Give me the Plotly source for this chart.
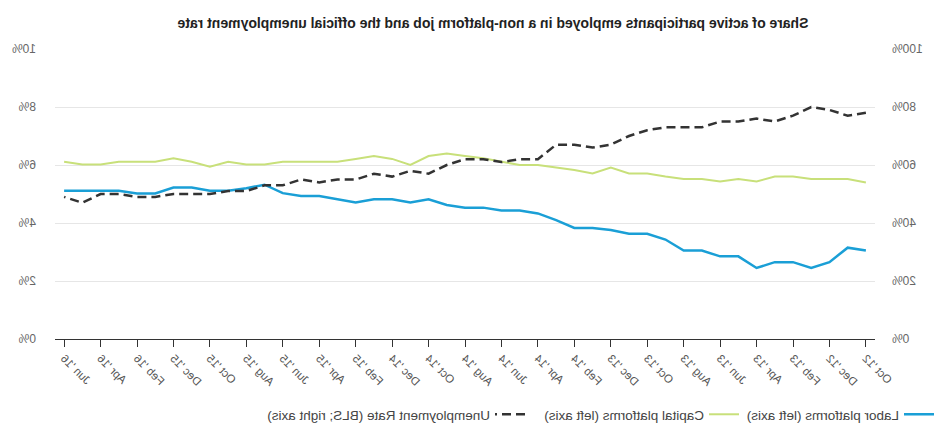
import plotly.graph_objects as go
import pandas as pd

# Monthly observations, Oct 2012 - Jun 2016
months = pd.date_range("2012-10-01", "2016-06-01", freq="MS").strftime("%b '%y").tolist()

tick_labels = ["Oct '12", "Dec '12", "Feb '13", "Apr '13", "Jun '13", "Aug '13",
               "Oct '13", "Dec '13", "Feb '14", "Apr '14", "Jun '14", "Aug '14",
               "Oct '14", "Dec '14", "Feb '15", "Apr '15", "Jun '15", "Aug '15",
               "Oct '15", "Dec '15", "Feb '16", "Apr '16", "Jun '16"]

labor = [30.5, 31.5, 26.5, 24.5, 26.5, 26.5, 24.5, 28.5, 28.5, 30.5,
         30.5, 34.3, 36.3, 36.3, 37.6, 38.3, 38.3, 41.0, 43.3, 44.3,
         44.3, 45.3, 45.3, 46.2, 48.2, 47.1, 48.2, 48.2, 47.1, 48.3,
         49.3, 49.3, 50.3, 53.2, 52.0, 51.1, 51.1, 52.2, 52.2, 50.2,
         50.2, 51.1, 51.1, 51.1, 51.1]

capital = [54.0, 55.2, 55.2, 55.2, 56.0, 56.0, 54.3, 55.2, 54.3, 55.2,
           55.2, 56.0, 57.1, 57.1, 59.1, 57.1, 58.3, 59.1, 60.0, 60.0,
           61.1, 62.3, 63.1, 64.0, 63.1, 60.0, 62.1, 63.1, 62.1, 61.1,
           61.1, 61.1, 61.1, 60.2, 60.2, 61.1, 59.4, 61.1, 62.3, 61.1,
           61.1, 61.1, 60.2, 60.2, 61.1]

unemployment = [7.8, 7.7, 7.9, 8.0, 7.7, 7.5, 7.6, 7.5, 7.5, 7.3,
                7.3, 7.3, 7.2, 7.0, 6.7, 6.6, 6.7, 6.7, 6.2, 6.2,
                6.1, 6.2, 6.2, 6.0, 5.7, 5.8, 5.6, 5.7, 5.5, 5.5,
                5.4, 5.5, 5.3, 5.3, 5.1, 5.1, 5.0, 5.0, 5.0, 4.9,
                4.9, 5.0, 5.0, 4.7, 4.9]

left_ticks = [0, 20, 40, 60, 80, 100]
left_labels = ["0%", "20%", "40%", "60%", "80%", "100%"]
right_ticks = [0, 2, 4, 6, 8, 10]
right_labels = ["0%", "2%", "4%", "6%", "8%", "10%"]

title = "Share of active participants employed in a non-platform job and the official unemployment rate"

fig = go.Figure()
fig.add_trace(go.Scatter(x=months, y=labor, name="Labor platforms (left axis)", mode="lines",
                         line=dict(color="#1a9fd6", width=2.5), legend="legend"))
fig.add_trace(go.Scatter(x=months, y=capital, name="Capital platforms (left axis)", mode="lines",
                         line=dict(color="#c8e07a", width=2), legend="legend2"))
fig.add_trace(go.Scatter(x=months, y=unemployment, name="Unemployment Rate (BLS; right axis)",
                         mode="lines", yaxis="y2", legend="legend3",
                         line=dict(color="#333333", width=2.5, dash="9px,5px")))

legend_style = dict(orientation="h", xref="container", yref="container", y=(441 - 399) / 441,
                    xanchor="left", yanchor="top",
                    font=dict(size=13.5, color="#444444"), bgcolor="rgba(0,0,0,0)")

fig.update_layout(
    width=943, height=441,
    margin=dict(l=68, r=55, t=49, b=102),
    paper_bgcolor="white", plot_bgcolor="white",
    font=dict(family="Liberation Sans, Arial, sans-serif", size=11, color="#555555"),
    title=dict(text="<b>" + title + "</b>", x=450 / 943, xref="container", xanchor="center",
               y=1 - 23 / 441, yref="container", yanchor="middle",
               font=dict(family="Liberation Sans, Arial, sans-serif", size=14, color="#222222")),
    xaxis=dict(type="category", range=[-0.5, 44.5], tickmode="array",
               tickvals=tick_labels, ticktext=tick_labels, tickangle=-45,
               ticks="outside", ticklen=7, tickcolor="#333333", tickwidth=1,
               showline=True, linecolor="#333333", linewidth=1, showgrid=False,
               tickfont=dict(size=11.5, color="#555555")),
    yaxis=dict(range=[0, 100], tickmode="array", tickvals=left_ticks, ticktext=left_labels,
               showgrid=True, gridcolor="#e6e6e6", gridwidth=1, zeroline=False,
               showline=False, ticklabelstandoff=16, tickfont=dict(size=12, color="#666666")),
    yaxis2=dict(range=[0, 10], overlaying="y", side="right", tickmode="array",
                tickvals=right_ticks, ticktext=right_labels, showgrid=False, zeroline=False,
                showline=False, ticklabelstandoff=18, tickfont=dict(size=12, color="#666666")),
    legend=dict(legend_style, x=4 / 943),
    legend2=dict(legend_style, x=199 / 943),
    legend3=dict(legend_style, x=413 / 943),
    showlegend=True,
)

fig.write_html("out.html", config={"displayModeBar": False},
               post_script="document.body.style.margin='0';"
                           "document.getElementById('{plot_id}').style.transform='scaleX(-1)';")
